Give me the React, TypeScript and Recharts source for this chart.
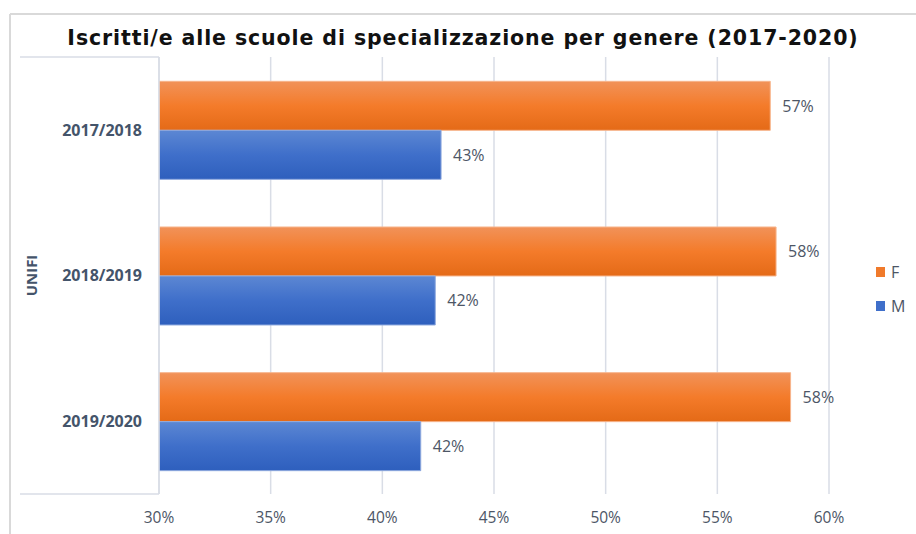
import React from "react";
import {
  BarChart,
  Bar,
  XAxis,
  YAxis,
  CartesianGrid,
  Legend,
  LabelList,
} from "recharts";

// Enrolment share by gender, UNIFI specialisation schools
const years = ["2017/2018", "2018/2019", "2019/2020"];
const femaleShare = [57.37, 57.63, 58.28];
const maleShare = [42.63, 42.37, 41.72];
const xTicks = [30, 35, 40, 45, 50, 55, 60];
const groupLabel = "UNIFI";
const chartTitle = "Iscritti/e alle scuole di specializzazione per genere (2017-2020)";

const data = years.map((year, i) => ({ year, F: femaleShare[i], M: maleShare[i] }));

const W = 916;
const H = 534;
const MARGIN = { top: 57, right: 87, bottom: 10, left: 0 };
const Y_AXIS_W = 159;
const X_AXIS_H = 30;
const plotTop = MARGIN.top;
const plotBottom = H - MARGIN.bottom - X_AXIS_H;
const plotLeft = MARGIN.left + Y_AXIS_W;

const TEXT_COLOR = "#4d5666";
const AXIS_COLOR = "#44546a";
const GRID_COLOR = "#d9dde6";
const FONT = "'Open Sans', 'Noto Sans', sans-serif";

const pct = (v: number) => `${Math.round(v)}%`;

const LegendContent = () => (
  <div style={{ fontFamily: FONT, fontSize: 16, color: TEXT_COLOR }}>
    {[
      { name: "F", fill: "#f07a2b" },
      { name: "M", fill: "#3f6fca" },
    ].map((item) => (
      <div
        key={item.name}
        style={{ display: "flex", alignItems: "center", height: 34 }}
      >
        <span
          style={{
            display: "inline-block",
            width: 9,
            height: 10,
            background: item.fill,
            marginRight: 6,
          }}
        />
        <span>{item.name}</span>
      </div>
    ))}
  </div>
);

export default function App() {
  return (
    <div style={{ position: "absolute", left: 0, top: 0, width: W, height: H, background: "#fff" }}>
      <BarChart
        width={W}
        height={H}
        data={data}
        layout="vertical"
        margin={MARGIN}
        barGap={0}
        barCategoryGap="16.7%"
      >
        <defs>
          <linearGradient id="gradF" x1="0" y1="0" x2="0" y2="1">
            <stop offset="0%" stopColor="#f19259" />
            <stop offset="50%" stopColor="#f47b2a" />
            <stop offset="100%" stopColor="#e46a17" />
          </linearGradient>
          <linearGradient id="gradM" x1="0" y1="0" x2="0" y2="1">
            <stop offset="0%" stopColor="#5c87d3" />
            <stop offset="50%" stopColor="#3f6fca" />
            <stop offset="100%" stopColor="#2e5fbd" />
          </linearGradient>
        </defs>

        {/* chart frame */}
        <line x1={10} y1={14} x2={W} y2={14} stroke="#d9d9d9" strokeWidth={2} />
        <line x1={10} y1={14} x2={10} y2={H} stroke="#d9d9d9" strokeWidth={2} />

        {/* group bracket of the two-level category axis */}
        <line x1={20} y1={plotTop} x2={plotLeft} y2={plotTop} stroke={GRID_COLOR} strokeWidth={1.5} />
        <line x1={20} y1={plotBottom} x2={plotLeft} y2={plotBottom} stroke={GRID_COLOR} strokeWidth={1.5} />

        <text
          x={463}
          y={45}
          textAnchor="middle"
          style={{
            fontFamily: "'DejaVu Sans', Verdana, sans-serif",
            fontWeight: 700,
            fontSize: 20.5,
            letterSpacing: 0.9,
            fill: "#111",
          }}
        >
          {chartTitle}
        </text>

        <CartesianGrid horizontal={false} stroke={GRID_COLOR} strokeWidth={1.5} />
        <XAxis
          type="number"
          domain={[30, 60]}
          ticks={xTicks}
          tickFormatter={(v: number) => `${v}%`}
          height={X_AXIS_H}
          axisLine={false}
          tickLine={false}
          tick={{ fontFamily: FONT, fontSize: 15.5, fill: TEXT_COLOR }}
          tickMargin={12}
          allowDataOverflow
        />
        <YAxis
          type="category"
          dataKey="year"
          width={Y_AXIS_W}
          axisLine={{ stroke: GRID_COLOR, strokeWidth: 1.5 }}
          tickLine={false}
          tickMargin={11}
          tick={{ fontFamily: FONT, fontSize: 16, fontWeight: 700, fill: AXIS_COLOR }}
          label={{
            value: groupLabel,
            angle: -90,
            position: "insideLeft",
            offset: 32,
            style: { fontFamily: FONT, fontSize: 15, fontWeight: 700, fill: AXIS_COLOR, textAnchor: "middle" },
          }}
        />
        <Legend
          layout="horizontal"
          align="center"
          verticalAlign="middle"
          content={<LegendContent />}
          wrapperStyle={{ position: "absolute", left: 876, top: 255, width: 40 }}
        />
        <Bar dataKey="F" name="F" fill="url(#gradF)" stroke="#f7b58c" strokeWidth={1} isAnimationActive={false}>
          <LabelList
            dataKey="F"
            position="right"
            offset={12}
            formatter={pct}
            style={{ fontFamily: FONT, fontSize: 16, fill: TEXT_COLOR }}
          />
        </Bar>
        <Bar dataKey="M" name="M" fill="url(#gradM)" stroke="#8fa9de" strokeWidth={1} isAnimationActive={false}>
          <LabelList
            dataKey="M"
            position="right"
            offset={12}
            formatter={pct}
            style={{ fontFamily: FONT, fontSize: 16, fill: TEXT_COLOR }}
          />
        </Bar>
      </BarChart>
    </div>
  );
}
